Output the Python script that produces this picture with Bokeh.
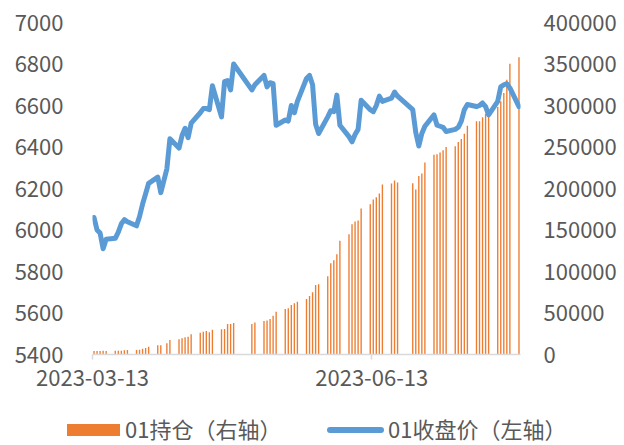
from datetime import datetime, timedelta
from bokeh.plotting import figure
from bokeh.layouts import column
from bokeh.models import (Range1d, LinearAxis, FixedTicker, SingleIntervalTicker,
                          DatetimeTickFormatter, NumeralTickFormatter, Div)
from bokeh.embed import file_html
from bokeh.resources import INLINE

# ---------------- data ----------------
dates = [
    "2023-03-13", "2023-03-14", "2023-03-15", "2023-03-16", "2023-03-17",
    "2023-03-20", "2023-03-21", "2023-03-22", "2023-03-23", "2023-03-24",
    "2023-03-27", "2023-03-28", "2023-03-29", "2023-03-30", "2023-03-31",
    "2023-04-03", "2023-04-04", "2023-04-06", "2023-04-07",
    "2023-04-10", "2023-04-11", "2023-04-12", "2023-04-13", "2023-04-14",
    "2023-04-17", "2023-04-18", "2023-04-19", "2023-04-20", "2023-04-21",
    "2023-04-24", "2023-04-25", "2023-04-26", "2023-04-27", "2023-04-28",
    "2023-05-04", "2023-05-05",
    "2023-05-08", "2023-05-09", "2023-05-10", "2023-05-11", "2023-05-12",
    "2023-05-15", "2023-05-16", "2023-05-17", "2023-05-18", "2023-05-19",
    "2023-05-22", "2023-05-23", "2023-05-24", "2023-05-25", "2023-05-26",
    "2023-05-29", "2023-05-30", "2023-05-31", "2023-06-01", "2023-06-02",
    "2023-06-05", "2023-06-06", "2023-06-07", "2023-06-08", "2023-06-09",
    "2023-06-12", "2023-06-13", "2023-06-14", "2023-06-15", "2023-06-16",
    "2023-06-19", "2023-06-20", "2023-06-21",
    "2023-06-26", "2023-06-27", "2023-06-28", "2023-06-29", "2023-06-30",
    "2023-07-03", "2023-07-04", "2023-07-05", "2023-07-06", "2023-07-07",
    "2023-07-10", "2023-07-11", "2023-07-12", "2023-07-13", "2023-07-14",
    "2023-07-17", "2023-07-18", "2023-07-19", "2023-07-20", "2023-07-21",
    "2023-07-24", "2023-07-25", "2023-07-26", "2023-07-27", "2023-07-28",
    "2023-07-31",
]

close = [
    6060, 6000, 5985, 5910, 5955,
    5960, 5990, 6030, 6050, 6040,
    6020, 6065, 6125, 6175, 6225,
    6255, 6180, 6295, 6440,
    6395, 6455, 6490, 6445, 6515,
    6565, 6585, 6585, 6580, 6695,
    6545, 6715, 6720, 6675, 6800,
    6675, 6700,
    6745, 6690, 6710, 6705, 6505,
    6530, 6525, 6600, 6565, 6620,
    6730, 6745, 6700, 6510, 6465,
    6545, 6575, 6570, 6650, 6505,
    6450, 6425, 6460, 6485, 6625,
    6580, 6570, 6600, 6645, 6620,
    6635, 6665, 6645,
    6580, 6470, 6405, 6465, 6500,
    6555, 6505, 6500, 6495, 6475,
    6485, 6495, 6525, 6580, 6605,
    6595, 6600, 6612, 6595, 6555,
    6620, 6690, 6700, 6705, 6685,
    6595,
]

open_interest = [
    4200, 4300, 4200, 4400, 4300,
    4500, 4600, 4600, 5200, 5400,
    5400, 5800, 7000, 7800, 9400,
    11000, 11200, 13500, 17400,
    18300, 19500, 20700, 21400, 24300,
    26200, 27400, 28300, 26700, 29800,
    30300, 30700, 36700, 36700, 37900,
    36700, 38700,
    40300, 41100, 42700, 46700, 51500,
    54700, 55600, 59500, 61600, 63500,
    67000, 70400, 75000, 83600, 84600,
    94400, 110000, 113700, 120900, 136900,
    145000, 156800, 160200, 161500, 175900,
    181000, 186700, 189500, 193900, 204700,
    206000, 209600, 207200,
    206300, 198700, 215100, 218000, 231200,
    240800, 241200, 243500, 246000, 250000,
    251000, 256000, 259500, 266100, 275500,
    280900, 280900, 285700, 290200, 295000,
    298100, 305000, 315000, 331000, 350300,
    358200,
]

x_tick_dates = ["2023-03-13", "2023-06-13"]
left_range = (5400, 7000)
right_range = (0, 400000)
series_names = ["01持仓（右轴）", "01收盘价（左轴）"]

# ---------------- styling ----------------
FONT = "Noto Sans CJK SC"
TXT = "#595959"
BAR_COLOR = "#ED7D31"
LINE_COLOR = "#5B9BD5"
DAY_MS = 86400000
EPOCH = datetime(1970, 1, 1)


def to_ms(d):
    return (d - EPOCH).total_seconds() * 1000.0


x = [datetime.strptime(d, "%Y-%m-%d") + timedelta(hours=12) for d in dates]

# ---------------- main chart ----------------
p = figure(width=624, height=401, x_axis_type="datetime",
           output_backend="svg", toolbar_location=None,
           x_range=Range1d(datetime(2023, 3, 13), datetime(2023, 8, 1)),
           y_range=Range1d(*left_range),
           min_border_left=92, min_border_right=104,
           min_border_top=22, min_border_bottom=47)
p.extra_y_ranges = {"oi": Range1d(*right_range)}
p.xgrid.visible = False
p.ygrid.visible = False
p.outline_line_color = None
p.background_fill_color = "white"
p.border_fill_color = "white"

bars = p.vbar(x=x, top=open_interest, width=0.45 * DAY_MS, y_range_name="oi",
              fill_color=BAR_COLOR, line_color=None)
line = p.line(x, close, line_width=5, line_color=LINE_COLOR,
              line_join="round", line_cap="round")

# bottom axis
xa = p.xaxis[0]
xa.ticker = FixedTicker(ticks=[to_ms(datetime.strptime(d, "%Y-%m-%d")) for d in x_tick_dates])
fmt = "%Y-%m-%d"
xa.formatter = DatetimeTickFormatter(days=fmt, months=fmt, years=fmt, hours=fmt,
                                     minutes=fmt, seconds=fmt, milliseconds=fmt,
                                     microseconds=fmt, hourmin=fmt, minsec=fmt)
xa.axis_line_color = "#D9D9D9"
xa.axis_line_width = 1.5
xa.major_tick_line_color = "#D9D9D9"
xa.major_tick_line_width = 1.5
xa.major_tick_in = 0
xa.major_tick_out = 5
xa.minor_tick_line_color = None
xa.major_label_text_font = FONT
xa.major_label_text_font_size = "22px"
xa.major_label_text_color = TXT
xa.major_label_standoff = 10

# left axis
ya = p.yaxis[0]
ya.ticker = SingleIntervalTicker(interval=200)
ya.axis_line_color = None
ya.major_tick_line_color = None
ya.minor_tick_line_color = None
ya.major_label_text_font = FONT
ya.major_label_text_font_size = "22px"
ya.major_label_text_color = TXT
ya.major_label_standoff = 23

# right axis
ra = LinearAxis(y_range_name="oi", ticker=SingleIntervalTicker(interval=50000),
                formatter=NumeralTickFormatter(format="0"))
ra.axis_line_color = None
ra.major_tick_line_color = None
ra.minor_tick_line_color = None
ra.major_label_text_font = FONT
ra.major_label_text_font_size = "22px"
ra.major_label_text_color = TXT
ra.major_label_standoff = 17
p.add_layout(ra, "right")

# ---------------- legend strip (below the chart) ----------------
legend_html = (
    f'<div style="position:relative;width:624px;height:44px;'
    f'font-family:\'{FONT}\';font-size:22px;color:{TXT};">'
    f'<span style="position:absolute;left:67px;top:23px;width:53px;height:12px;'
    f'background:{BAR_COLOR};"></span>'
    f'<span style="position:absolute;left:125px;top:16px;line-height:22px;'
    f'white-space:nowrap;">{series_names[0]}</span>'
    f'<span style="position:absolute;left:327px;top:26px;width:57px;height:6px;'
    f'border-radius:3px;background:{LINE_COLOR};"></span>'
    f'<span style="position:absolute;left:388px;top:16px;line-height:22px;'
    f'white-space:nowrap;">{series_names[1]}</span>'
    f'</div>'
)
legend_div = Div(text=legend_html, width=624, height=44, margin=0)

layout = column(p, legend_div, spacing=0)
open("out.html", "w").write(file_html(layout, INLINE))
